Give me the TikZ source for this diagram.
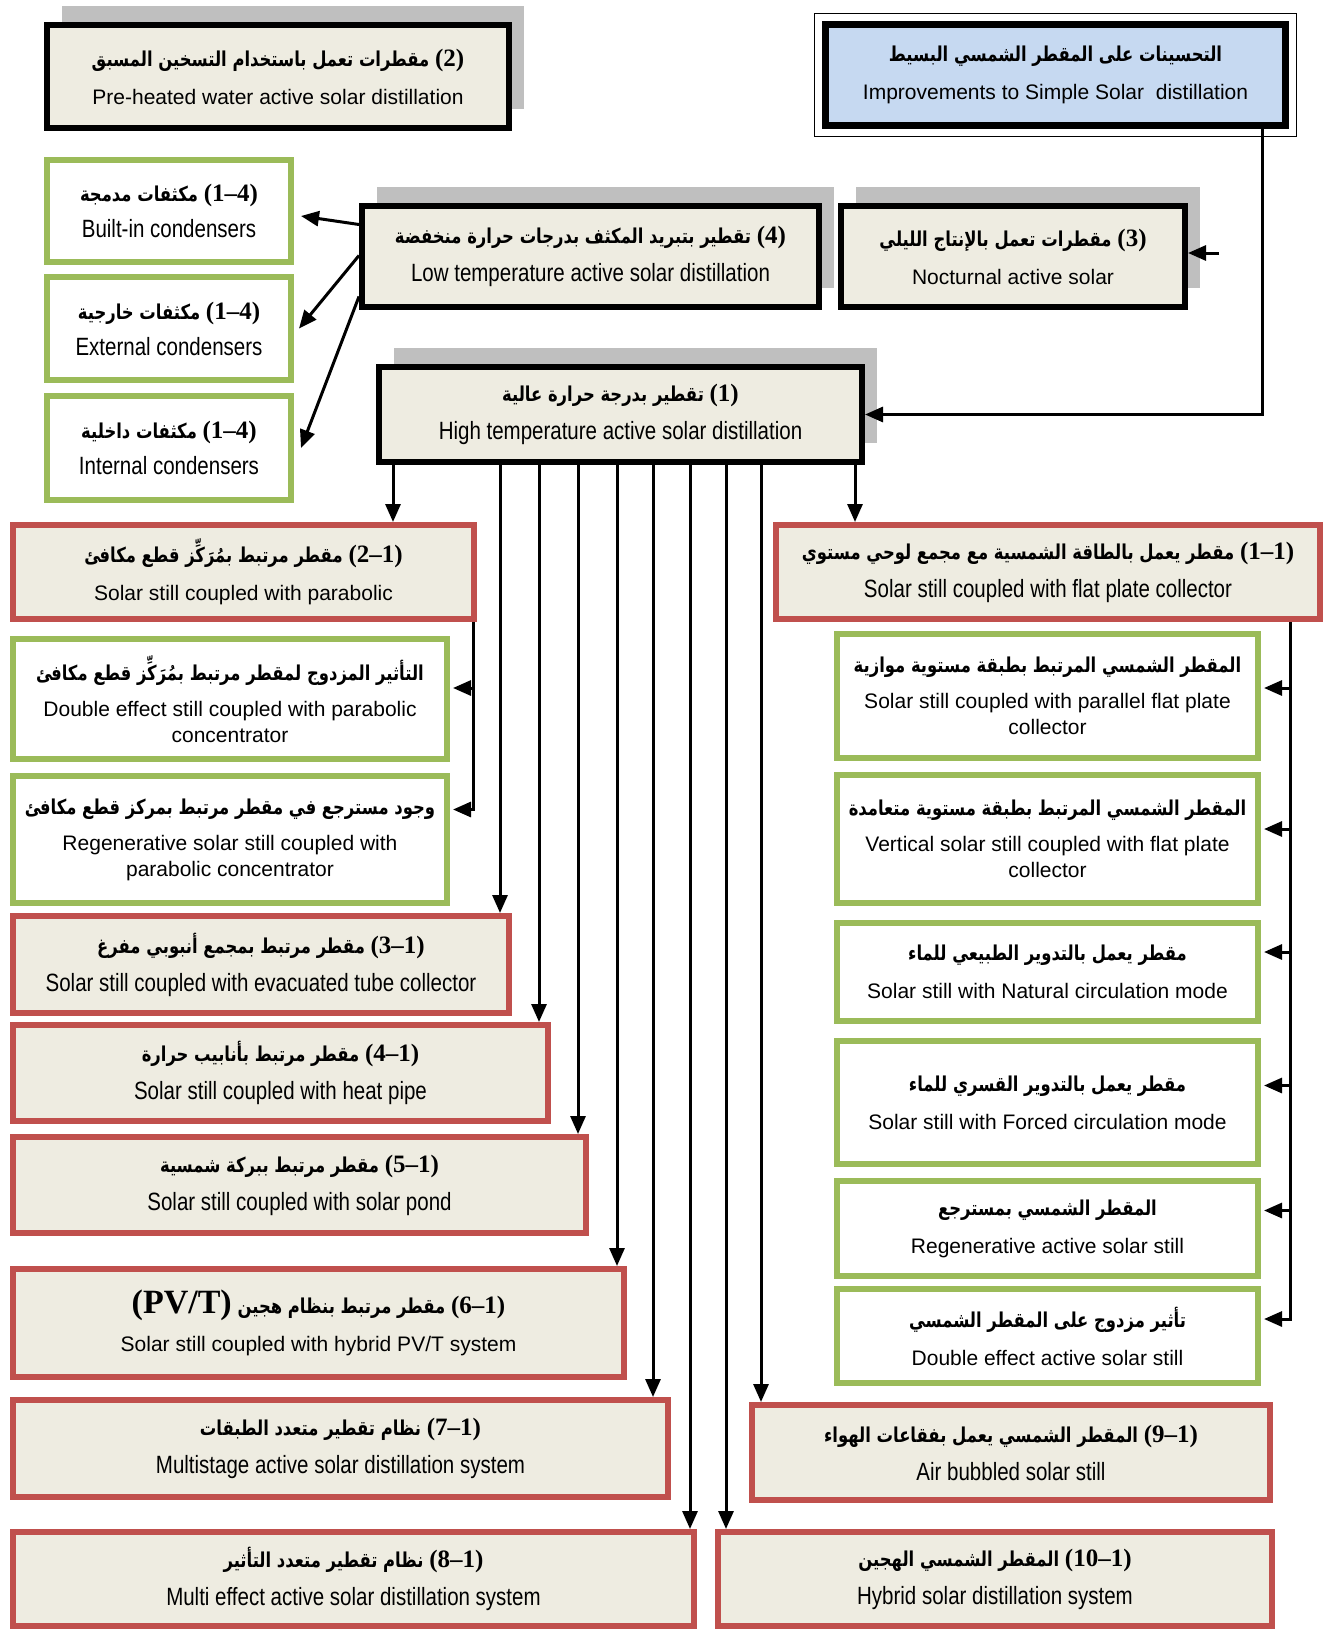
\documentclass[tikz,border=0pt]{standalone}
\usepackage{fontspec}
\setmainfont{Liberation Sans}
\newfontfamily\narrowfont[FakeStretch=0.82]{Liberation Sans}
\newfontfamily\arfont[Script=Arabic,FakeStretch=0.8]{DejaVu Sans}
\newfontfamily\numfont{Liberation Serif}
\TeXXeTstate=1
\usetikzlibrary{arrows.meta,shadows}
\definecolor{beige}{HTML}{EEECE1}
\definecolor{redb}{HTML}{C0504D}
\definecolor{greenb}{HTML}{9BBB59}
\definecolor{blueb}{HTML}{C6D9F1}
\definecolor{shad}{HTML}{BFBFBF}
\newcommand\AR[1]{{\arfont\bfseries\fontsize{20.5}{24}\selectfont\beginR #1\endR}}
\newcommand\NUM[1]{{\numfont\bfseries\fontsize{25}{27}\selectfont #1}}
\newcommand\BIG[1]{{\numfont\bfseries\fontsize{34}{36}\selectfont #1}}
\newcommand\bx[7]{%
  \node[#1, minimum width={(#5-#3-6)*1pt}, minimum height={(#6-#4-6)*1pt}]
    (#2) at ({(#3+#5)/2},{(#4+#6)/2}) {#7};}
\begin{document}
\begin{tikzpicture}[x=1pt,y=-1pt,
  common/.style={align=center, inner sep=0pt, line width=6pt,
    font=\fontsize{21}{26}\selectfont},
  narrow/.style={font=\narrowfont\fontsize{25}{28}\selectfont},
  blk/.style={common, draw=black, fill=beige,
    drop shadow={shadow xshift=15pt, shadow yshift=19pt, fill=shad, opacity=1}},
  redbox/.style={common, draw=redb, fill=beige},
  grnbox/.style={common, draw=greenb, fill=white},
  impbox/.style={common, draw=black, line width=7pt, fill=blueb},
  arr/.style={line width=3pt, -{Triangle[length=18pt,width=15pt]}}]
\fill[white] (0,0) rectangle (1331,1630);
\useasboundingbox (0,0) rectangle (1331,1630);

% black boxes with shadow
\bx{blk}{pre}{44}{22}{512}{131}{\AR{مقطرات تعمل باستخدام التسخين المسبق}\ \NUM{(2)}\\[12pt]Pre-heated water active solar distillation}
\bx{blk,narrow}{low}{359}{203}{822}{310}{\AR{تقطير بتبريد المكثف بدرجات حرارة منخفضة}\ \NUM{(4)}\\[10pt]Low temperature active solar distillation}
\bx{blk}{noct}{838}{203}{1188}{310}{\AR{مقطرات تعمل بالإنتاج الليلي}\ \NUM{(3)}\\[12pt]Nocturnal active solar}
\bx{blk,narrow}{high}{376}{364}{865}{465}{\AR{تقطير بدرجة حرارة عالية}\ \NUM{(1)}\\[10pt]High temperature active solar distillation}

% improvements box
\node[impbox, minimum width={(1289-822-7)*1pt}, minimum height={(129-21-7)*1pt}]
  (imp) at (1055.5,75) {\AR{التحسينات على المقطر الشمسي البسيط}\\[12pt]Improvements to Simple Solar\ \ distillation};
\draw[line width=1.3pt] ([shift={(-7.5,-7.5)}]imp.north west) rectangle ([shift={(7.5,7.5)}]imp.south east);

% condensers
\bx{grnbox,narrow}{builtin}{44}{157}{294}{265}{\AR{مكثفات مدمجة}\ \NUM{(1–4)}\\[8pt]Built-in condensers}
\bx{grnbox,narrow}{external}{44}{274}{294}{383}{\AR{مكثفات خارجية}\ \NUM{(1–4)}\\[8pt]External condensers}
\bx{grnbox,narrow}{internal}{44}{393}{294}{503}{\AR{مكثفات داخلية}\ \NUM{(1–4)}\\[8pt]Internal condensers}

% left column
\bx{redbox}{b21}{10}{522}{477}{622}{\AR{مقطر مرتبط بمُرَكِّز قطع مكافئ}\ \NUM{(2–1)}\\[12pt]Solar still coupled with parabolic}
\bx{grnbox}{dblpar}{10}{636}{450}{762}{\AR{التأثير المزدوج لمقطر مرتبط بمُرَكِّز قطع مكافئ}\\[10pt]Double effect still coupled with parabolic\\concentrator}
\bx{grnbox}{regpar}{10}{773}{450}{906}{\AR{وجود مسترجع في مقطر مرتبط بمركز قطع مكافئ}\\[10pt]Regenerative solar still coupled with\\parabolic concentrator}
\bx{redbox,narrow}{b31}{10}{913}{512}{1016}{\AR{مقطر مرتبط بمجمع أنبوبي مفرغ}\ \NUM{(3–1)}\\[10pt]Solar still coupled with evacuated tube collector}
\bx{redbox,narrow}{b41}{10}{1022}{551}{1124}{\AR{مقطر مرتبط بأنابيب حرارة}\ \NUM{(4–1)}\\[10pt]Solar still coupled with heat pipe}
\bx{redbox,narrow}{b51}{10}{1134}{589}{1236}{\AR{مقطر مرتبط ببركة شمسية}\ \NUM{(5–1)}\\[10pt]Solar still coupled with solar pond}
\bx{redbox}{b61}{10}{1266}{627}{1380}{\BIG{(PV/T)}\ \AR{مقطر مرتبط بنظام هجين}\ \NUM{(6–1)}\\[12pt]Solar still coupled with hybrid PV/T system}
\bx{redbox,narrow}{b71}{10}{1397}{671}{1500}{\AR{نظام تقطير متعدد الطبقات}\ \NUM{(7–1)}\\[10pt]Multistage active solar distillation system}
\bx{redbox,narrow}{b81}{10}{1529}{697}{1629}{\AR{نظام تقطير متعدد التأثير}\ \NUM{(8–1)}\\[10pt]Multi effect active solar distillation system}

% right column
\bx{redbox,narrow}{b11}{773}{522}{1323}{622}{\AR{مقطر يعمل بالطاقة الشمسية مع مجمع لوحي مستوي}\ \NUM{(1–1)}\\[10pt]Solar still coupled with flat plate collector}
\bx{grnbox}{par}{834}{631}{1261}{761}{\AR{المقطر الشمسي المرتبط بطبقة مستوية موازية}\\[10pt]Solar still coupled with parallel flat plate\\collector}
\bx{grnbox}{vert}{834}{772}{1261}{906}{\AR{المقطر الشمسي المرتبط بطبقة مستوية متعامدة}\\[10pt]Vertical solar still coupled with flat plate\\collector}
\bx{grnbox}{nat}{834}{920}{1261}{1024}{\AR{مقطر يعمل بالتدوير الطبيعي للماء}\\[12pt]Solar still with Natural circulation mode}
\bx{grnbox}{forced}{834}{1038}{1261}{1167}{\AR{مقطر يعمل بالتدوير القسري للماء}\\[12pt]Solar still with Forced circulation mode}
\bx{grnbox}{regen}{834}{1178}{1261}{1279}{\AR{المقطر الشمسي بمسترجع}\\[12pt]Regenerative active solar still}
\bx{grnbox}{dbl}{834}{1286}{1261}{1386}{\AR{تأثير مزدوج على المقطر الشمسي}\\[12pt]Double effect active solar still}
\bx{redbox,narrow}{b91}{749}{1402}{1273}{1503}{\AR{المقطر الشمسي يعمل بفقاعات الهواء}\ \NUM{(9–1)}\\[10pt]Air bubbled solar still}
\bx{redbox,narrow}{b101}{715}{1529}{1275}{1629}{\AR{المقطر الشمسي الهجين}\ \NUM{(10–1)}\\[10pt]Hybrid solar distillation system}

% connectors
\draw[arr] ([xshift=206.5pt]imp.south) |- (high.east);
\coordinate (nin) at (1219,253);
\draw[arr] (nin) -- (nin -| noct.east);
\draw[arr] ([yshift=32pt]low.west) -- ([xshift=7pt,yshift=-5pt]builtin.east);
\draw[arr] ([yshift=1pt]low.west) -- ([xshift=5pt]external.east);
\draw[arr] ([yshift=-40pt]low.west) -- ([xshift=7pt]internal.east);

\foreach \dx/\tgt in {-227.5/b21, 234.5/b11, -120.5/b31, -81.5/b41, -42.5/b51,
    -3.5/b61, 32.5/b71, 69.5/b81, 105.5/b101, 140.5/b91}{
  \coordinate (hh) at ([xshift=\dx pt]high.south);
  \draw[arr] (hh) -- (hh |- \tgt.north);
}

\coordinate (l0) at ([xshift=229.5pt]b21.south);
\coordinate (l1) at ([xshift=3pt,yshift=11pt]dblpar.east);
\coordinate (l2) at ([xshift=3pt,yshift=30pt]regpar.east);
\draw[arr] (l0) |- (l2);
\draw[arr] (l0 |- l1) -- (l1);

\coordinate (r0) at ([xshift=242pt]b11.south);
\coordinate (r1) at ([xshift=3pt,yshift=8pt]par.east);
\coordinate (r2) at ([xshift=3pt,yshift=10pt]vert.east);
\coordinate (r3) at ([xshift=3pt,yshift=20pt]nat.east);
\coordinate (r4) at ([xshift=3pt,yshift=17pt]forced.east);
\coordinate (r5) at ([xshift=3pt,yshift=18pt]regen.east);
\coordinate (r6) at ([xshift=3pt,yshift=17pt]dbl.east);
\draw[arr] (r0) |- (r6);
\foreach \r in {r1,r2,r3,r4,r5}{\draw[arr] (r0 |- \r) -- (\r);}
\end{tikzpicture}
\end{document}
